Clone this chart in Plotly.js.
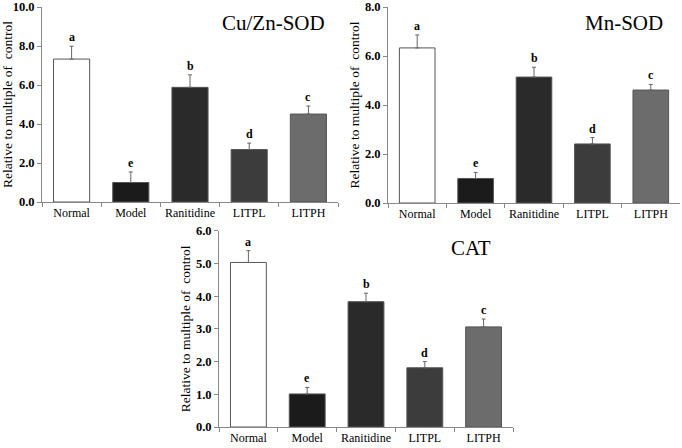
<!DOCTYPE html>
<html>
<head>
<meta charset="utf-8">
<script src="https://cdn.plot.ly/plotly-3.0.1.min.js"></script>
<style>html,body{margin:0;padding:0;background:#fff;}#chart{width:682px;height:448px;}</style>
</head>
<body>
<div id="chart"></div>
<script>
const categories = ["Normal", "Model", "Ranitidine", "LITPL", "LITPH"];
const barColors = ["#ffffff", "#1b1b1b", "#2a2a2a", "#3c3c3c", "#6c6c6c"];
const letters = ["a", "e", "b", "d", "c"];

const cuznValues = [7.33, 1.0, 5.88, 2.69, 4.51];
const cuznErrors = [0.66, 0.54, 0.64, 0.33, 0.41];

const mnValues = [6.33, 1.0, 5.14, 2.41, 4.61];
const mnErrors = [0.53, 0.25, 0.40, 0.26, 0.23];

const catValues = [5.03, 1.01, 3.83, 1.81, 3.06];
const catErrors = [0.36, 0.20, 0.26, 0.19, 0.24];

const panelTitles = ["Cu/Zn-SOD", "Mn-SOD", "CAT"];
const yTickVals1 = [0, 2, 4, 6, 8, 10];
const yTickVals2 = [0, 2, 4, 6, 8];
const yTickVals3 = [0, 1, 2, 3, 4, 5, 6];
const yTitle = "Relative to multiple of  control";

const panels = [
  {vals: cuznValues, errs: cuznErrors, ticks: yTickVals1, max: 10, xd: [42/682, 338/682], yd: [246/448, 441/448], title: panelTitles[0], tx: 0.963, ty: 0.92},
  {vals: mnValues, errs: mnErrors, ticks: yTickVals2, max: 8, xd: [388/682, 680/682], yd: [245/448, 441/448], title: panelTitles[1], tx: 0.949, ty: 0.92},
  {vals: catValues, errs: catErrors, ticks: yTickVals3, max: 6, xd: [219/682, 513/682], yd: [21/448, 217.3/448], title: panelTitles[2], tx: 0.932, ty: 0.91}
];

const font = "'Liberation Serif', 'Times New Roman', serif";
const traces = [];
const layout = {
  width: 682, height: 448,
  margin: {l: 0, r: 0, t: 0, b: 0},
  paper_bgcolor: "#fff", plot_bgcolor: "rgba(0,0,0,0)",
  showlegend: false,
  bargap: 0.39,
  font: {family: font, color: "#000"},
  annotations: []
};

panels.forEach((p, i) => {
  const n = i === 0 ? "" : String(i + 1);
  traces.push({
    type: "bar",
    x: categories, y: p.vals,
    xaxis: "x" + n, yaxis: "y" + n,
    marker: {color: barColors, line: {color: "#555", width: 1}},
    error_y: {type: "data", array: p.errs, symmetric: false, arrayminus: p.errs.map(() => 0), color: "#666", thickness: 1, width: 2},
    hoverinfo: "none"
  });
  layout["xaxis" + n] = {
    domain: p.xd, anchor: "y" + n,
    type: "category",
    showline: true, linecolor: "#888", linewidth: 1,
    ticks: "outside", tickson: "boundaries", ticklen: 4, tickcolor: "#888",
    tickangle: 0,
    tickfont: {family: font, size: 12, color: "#000"},
    showgrid: false, zeroline: false, fixedrange: true
  };
  layout["yaxis" + n] = {
    domain: p.yd, anchor: "x" + n,
    range: [0, p.max],
    tickvals: p.ticks, ticktext: p.ticks.map(v => v.toFixed(1)),
    showline: true, linecolor: "#888", linewidth: 1,
    ticks: "outside", ticklen: 4, tickcolor: "#888",
    tickfont: {family: font, size: 12.5, color: "#000", weight: "bold"},
    showgrid: false, zeroline: false,
    title: {text: yTitle, font: {family: font, size: 13.5, color: "#000"}, standoff: 2}
  };
  categories.forEach((c, k) => {
    layout.annotations.push({
      x: c, y: p.vals[k] + p.errs[k], xref: "x" + n, yref: "y" + n,
      text: letters[k], showarrow: false, yanchor: "bottom", yshift: 0,
      font: {family: font, size: 12, color: "#000", weight: "bold"}
    });
  });
  layout.annotations.push({
    xref: "x" + n + " domain", yref: "y" + n + " domain",
    x: p.tx, y: p.ty, xanchor: "right", yanchor: "middle",
    text: p.title, showarrow: false,
    font: {family: font, size: 21, color: "#000"}
  });
});

Plotly.newPlot("chart", traces, layout, {displayModeBar: false, staticPlot: true});
</script>
</body>
</html>
